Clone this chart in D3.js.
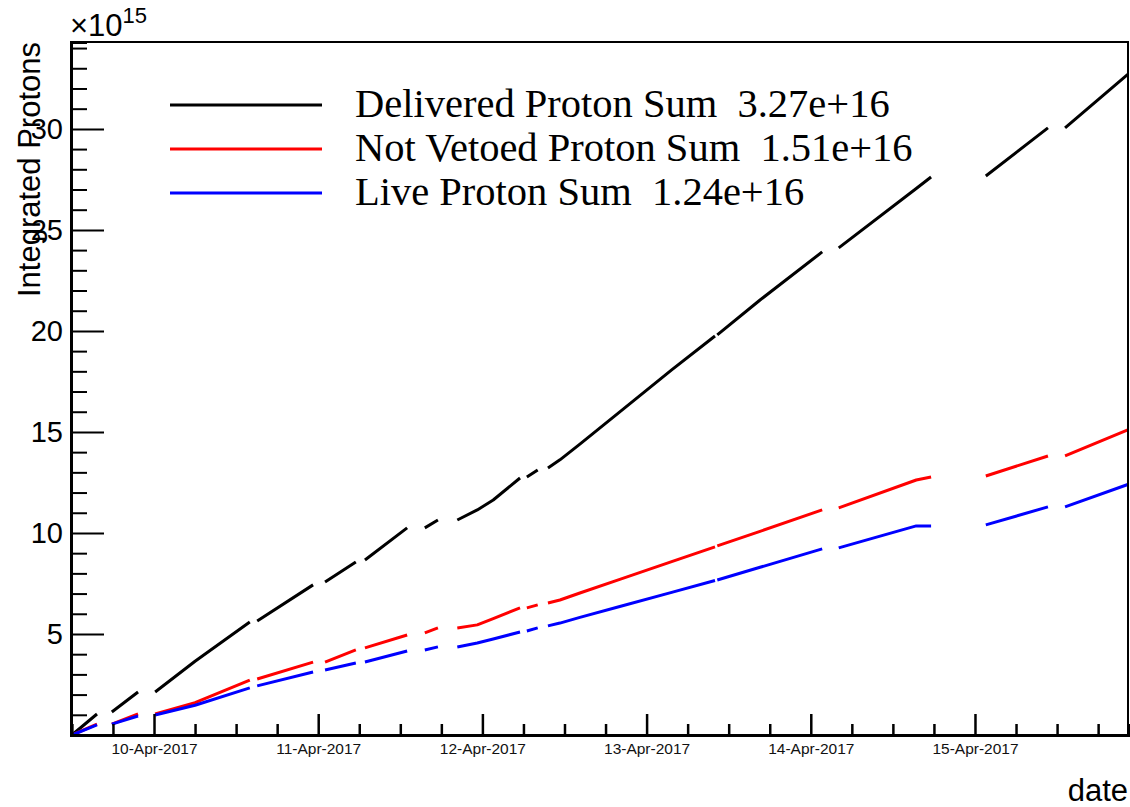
<!DOCTYPE html>
<html>
<head>
<meta charset="utf-8">
<script src="https://cdn.jsdelivr.net/npm/d3@7"></script>
<style>
  body { margin: 0; background: #fff; }
  svg { display: block; }
  .sans { font-family: "Liberation Sans", Arial, sans-serif; }
  .serif { font-family: "Liberation Serif", "Times New Roman", serif; }
</style>
</head>
<body>
<svg id="chart" width="1130" height="807"></svg>
<script>
// time stamps shared by the three sums, null = no data (gap in the curve)
var times = [
  "2017-04-09 12:00", "2017-04-09 15:40", null,
  "2017-04-09 17:50", "2017-04-09 21:40", null,
  "2017-04-10 00:10", "2017-04-10 06:00", "2017-04-10 14:00", null,
  "2017-04-10 15:05", "2017-04-10 23:15", null,
  "2017-04-11 01:00", "2017-04-11 05:30", null,
  "2017-04-11 06:50", "2017-04-11 13:00", null,
  "2017-04-11 15:35", "2017-04-11 17:30", null,
  "2017-04-11 20:20", "2017-04-11 23:15", "2017-04-12 01:35", "2017-04-12 05:30", null,
  "2017-04-12 06:30", "2017-04-12 08:05", null,
  "2017-04-12 09:35", "2017-04-12 11:20", "2017-04-12 14:15", "2017-04-12 20:05", "2017-04-13 03:40", "2017-04-13 10:00", null,
  "2017-04-13 10:20", "2017-04-13 16:35", "2017-04-14 01:40", null,
  "2017-04-14 04:05", "2017-04-14 15:25", "2017-04-14 17:35", null,
  "2017-04-15 01:35", "2017-04-15 10:40", null,
  "2017-04-15 13:10", "2017-04-15 22:20"
];

// integrated protons, units of 1e15
var delivered = [0, 1.04, null, 1.14, 2.13, null, 2.13, 3.65, 5.59, null, 5.64, 7.43, null,
  7.57, 8.56, null, 8.66, 10.25, null, 10.25, 10.64, null, 10.64, 11.14, 11.63, 12.72, null,
  12.77, 13.12, null, 13.22, 13.62, 14.40, 15.99, 18.07, 19.75, null, 19.80, 21.53, 23.91, null,
  24.11, 27.05, 27.62, null, 27.67, 30.05, null, 30.05, 32.70];
var notVetoed = [0, 0.54, null, 0.54, 1.04, null, 1.04, 1.60, 2.72, null, 2.77, 3.61, null,
  3.61, 4.21, null, 4.31, 4.95, null, 5.05, 5.30, null, 5.30, 5.45, 5.76, 6.29, null,
  6.29, 6.44, null, 6.53, 6.68, 7.03, 7.70, 8.58, 9.31, null, 9.36, 10.08, 11.14, null,
  11.24, 12.62, 12.77, null, 12.82, 13.81, null, 13.81, 15.10];
var live = [0, 0.50, null, 0.54, 0.94, null, 0.99, 1.47, 2.33, null, 2.43, 3.12, null,
  3.22, 3.56, null, 3.61, 4.16, null, 4.21, 4.36, null, 4.36, 4.55, 4.75, 5.10, null,
  5.15, 5.30, null, 5.40, 5.54, 5.82, 6.36, 7.06, 7.65, null, 7.67, 8.30, 9.21, null,
  9.26, 10.35, 10.35, null, 10.40, 11.29, null, 11.29, 12.40];

var seriesNames = ["Delivered Proton Sum  3.27e+16", "Not Vetoed Proton Sum  1.51e+16", "Live Proton Sum  1.24e+16"];
var seriesColors = ["#000000", "#ff0000", "#0000ff"];
var seriesValues = [delivered, notVetoed, live];

var parse = d3.timeParse("%Y-%m-%d %H:%M");
var timeRange = ["2017-04-09 11:52", "2017-04-15 22:22"];
var yMax = 34.3;

var svg = d3.select("#chart");
var plotLeft = 71, plotRight = 1128, plotTop = 42, plotBottom = 735;

var x = d3.scaleTime().domain(timeRange.map(parse)).range([plotLeft, plotRight]);
var y = d3.scaleLinear().domain([0, yMax]).range([plotBottom, plotTop]);

// curves
var line = d3.line()
    .defined(function(d) { return d.v != null; })
    .x(function(d) { return x(d.t); })
    .y(function(d) { return y(d.v); });

seriesValues.forEach(function(vals, i) {
    var data = times.map(function(t, k) { return { t: t ? parse(t) : null, v: t ? vals[k] : null }; });
    svg.append("path")
        .datum(data)
        .attr("fill", "none")
        .attr("stroke", seriesColors[i])
        .attr("stroke-width", 3)
        .attr("stroke-linejoin", "round")
        .attr("d", line);
});

// frame
svg.append("rect")
    .attr("x", plotLeft).attr("y", plotTop)
    .attr("width", plotRight - plotLeft).attr("height", plotBottom - plotTop)
    .attr("fill", "none").attr("stroke", "#000").attr("stroke-width", 2);

// y axis
var yAxis = svg.append("g")
    .attr("class", "sans")
    .attr("transform", "translate(" + plotLeft + ",0)")
    .call(d3.axisLeft(y)
        .tickValues(d3.range(1, 35))
        .tickSize(-16)
        .tickPadding(8)
        .tickFormat(function(d) { return d % 5 === 0 ? d : ""; }));
yAxis.select(".domain").attr("stroke-width", 3);
yAxis.selectAll(".tick line").attr("stroke-width", 2)
    .attr("x2", function(d) { return d % 5 === 0 ? 33 : 16; });
yAxis.selectAll(".tick text").attr("font-size", 29).attr("fill", "#000");

// x axis
var xAxis = svg.append("g")
    .attr("class", "sans")
    .attr("transform", "translate(0," + plotBottom + ")")
    .call(d3.axisBottom(x)
        .ticks(d3.timeHour.every(6))
        .tickSize(-11)
        .tickPadding(8)
        .tickFormat(function(d) { return d.getHours() === 0 ? d3.timeFormat("%d-%b-%Y")(d) : ""; }));
xAxis.select(".domain").attr("stroke-width", 3);
xAxis.selectAll(".tick line").attr("stroke-width", 2.5)
    .attr("y2", function(d) { return d.getHours() === 0 ? -21 : -11; });
xAxis.selectAll(".tick text").attr("font-size", 15.5).attr("fill", "#111");

// axis titles
svg.append("text")
    .attr("class", "sans")
    .attr("transform", "translate(40,42) rotate(-90)")
    .attr("text-anchor", "end")
    .attr("font-size", 31)
    .text("Integrated Protons");

svg.append("text")
    .attr("class", "sans")
    .attr("x", 1128).attr("y", 801)
    .attr("text-anchor", "end")
    .attr("font-size", 31)
    .text("date");

var expo = svg.append("text").attr("class", "sans").attr("x", 70).attr("y", 36).attr("font-size", 31);
expo.append("tspan").text("\u00d710");
expo.append("tspan").attr("font-size", 22).attr("dy", -13).text("15");

// legend
var legend = svg.append("g");
seriesNames.forEach(function(name, i) {
    var yy = 105 + i * 44;
    legend.append("line")
        .attr("x1", 170).attr("x2", 322)
        .attr("y1", yy).attr("y2", yy)
        .attr("stroke", seriesColors[i]).attr("stroke-width", 3);
    legend.append("text")
        .attr("class", "serif")
        .attr("x", 355).attr("y", yy + 12)
        .attr("font-size", 40.5)
        .style("white-space", "pre")
        .text(name);
});
</script>
</body>
</html>
